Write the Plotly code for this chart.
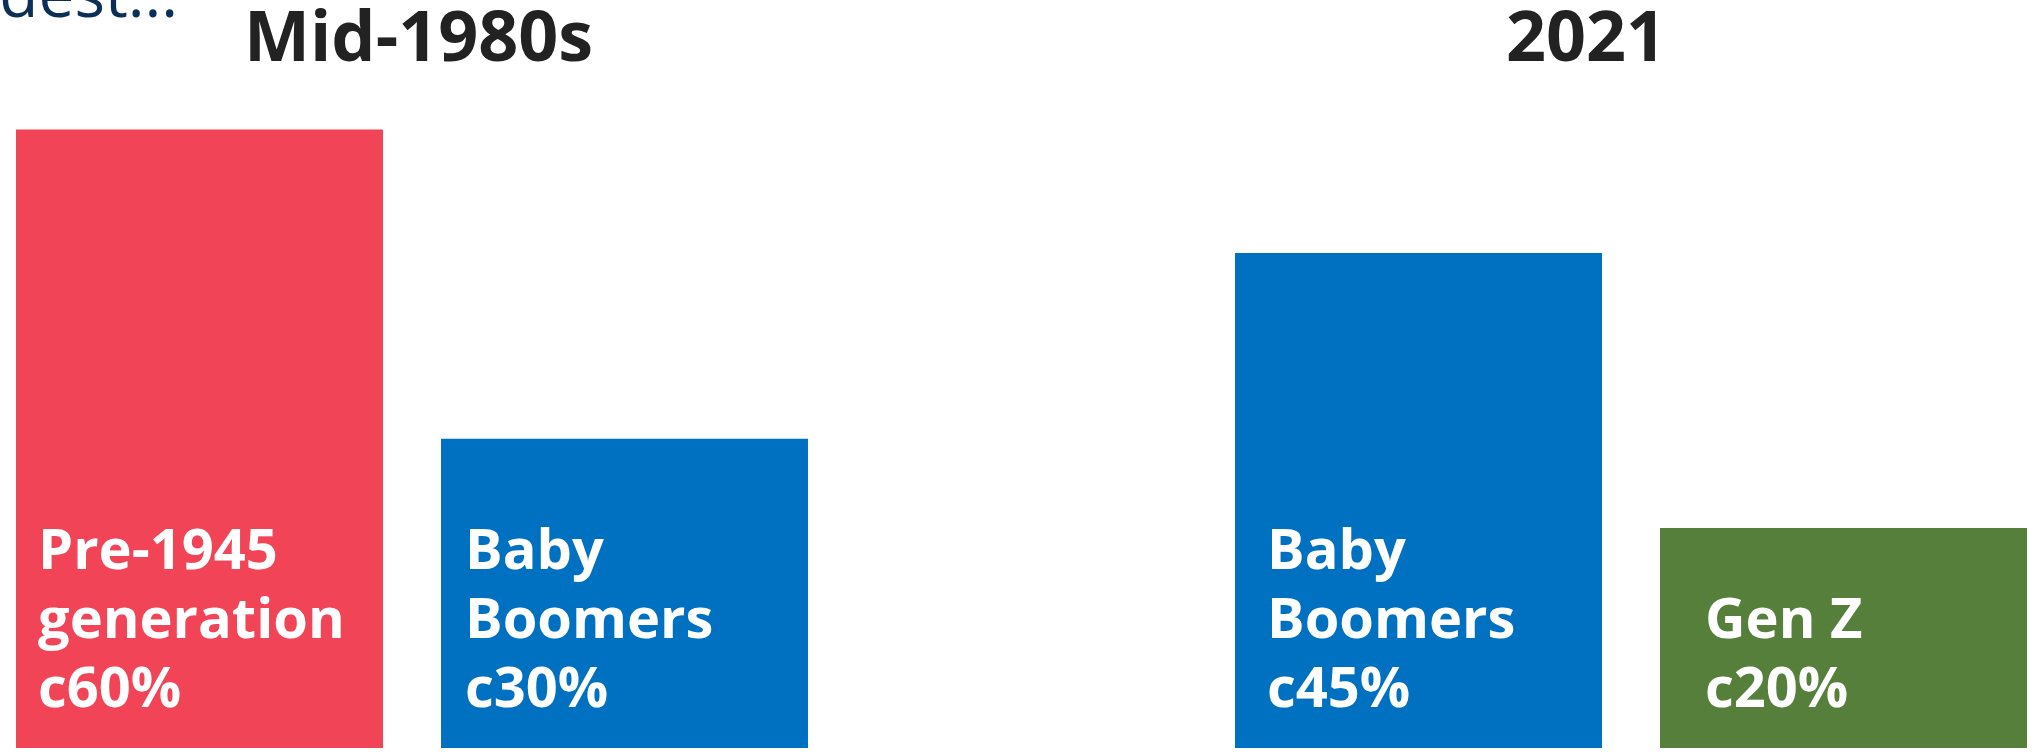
import plotly.graph_objects as go

# ---- data -------------------------------------------------------------
period_titles = ["Mid-1980s", "2021"]

gens_1980s = ["Pre-1945<br>generation", "Baby<br>Boomers"]
share_1980s = [60, 30]

gens_2021 = ["Baby<br>Boomers", "Gen Z"]
share_2021 = [45, 20]

lead_text = "the oldest..."

# ---- style ------------------------------------------------------------
RED = "#F14457"
BLUE = "#0071C1"
GREEN = "#577F3C"
colors_1980s = [RED, BLUE]
colors_2021 = [BLUE, GREEN]

W, H = 2034, 755
M_BOTTOM = 7
PLOT_H = H - M_BOTTOM

LABEL_FONT = dict(family="Open Sans", size=56, color="white", weight="bold")
TITLE_FONT = dict(family="Open Sans", size=70, color="#222222", weight="bold")
LEAD_FONT = dict(family="Open Sans", size=64, color="#0C2F57")
DESCENT = 0.293  # Open Sans descent, in em

# pixels per percentage point in each panel
PX_PER_PCT = [10.31, 11.0]
# left indent of the in-bar labels (px from the bar's left edge)
LABEL_INDENT = [[20, 22], [30, 43]]
LABEL_LINE_GAP = 69      # px between label baselines
LABEL_LAST_BASE = 40     # px from bar base up to last label baseline
BARGAP = 0.1365
SLOT = 425.0             # px per category slot


def px_x(px):
    return px / W


def px_y(py):
    return 1 - py / PLOT_H


fig = go.Figure()

panels = [
    (gens_1980s, share_1980s, colors_1980s, "x", "y"),
    (gens_2021, share_2021, colors_2021, "x2", "y2"),
]

for p, (gens, vals, cols, xa, ya) in enumerate(panels):
    fig.add_trace(go.Bar(
        x=gens, y=vals, marker=dict(color=cols, line=dict(width=0)),
        xaxis=xa, yaxis=ya, hoverinfo="skip", showlegend=False,
    ))
    for i, (g, v) in enumerate(zip(gens, vals)):
        lines = g.split("<br>") + [f"c{v}%"]
        n = len(lines)
        for k, line in enumerate(lines):
            base_up = LABEL_LAST_BASE + LABEL_LINE_GAP * (n - 1 - k)
            fig.add_annotation(
                x=g, y=0, xref=xa, yref=ya,
                text=line, showarrow=False, align="left",
                xanchor="left", yanchor="bottom",
                xshift=-(1 - BARGAP) / 2 * SLOT + LABEL_INDENT[p][i],
                yshift=base_up - DESCENT * LABEL_FONT["size"] - 1,
                font=LABEL_FONT,
            )

# panel titles
for title, cx in zip(period_titles, [418, 1586]):
    fig.add_annotation(
        x=px_x(cx), y=px_y(62 + DESCENT * TITLE_FONT["size"] + 1),
        xref="paper", yref="paper", text=title, showarrow=False,
        xanchor="center", yanchor="bottom", font=TITLE_FONT,
    )

# lead-in text running off the top-left corner
fig.add_annotation(
    x=px_x(180), y=px_y(18 + DESCENT * LEAD_FONT["size"] + 1),
    xref="paper", yref="paper", text=lead_text, showarrow=False,
    xanchor="right", yanchor="bottom", font=LEAD_FONT,
)

# axis geometry
d1_end, d2_start = 0.45, 0.5
c1 = [199.5, 1418.5]
x1_range = [(0 - c1[0]) / SLOT, (d1_end * W - c1[0]) / SLOT]
x2_range = [(d2_start * W - c1[1]) / SLOT, (W - c1[1]) / SLOT]

hidden = dict(visible=False, showgrid=False, zeroline=False, fixedrange=True)
fig.update_layout(
    width=W, height=H,
    margin=dict(l=0, r=0, t=0, b=M_BOTTOM, pad=0),
    paper_bgcolor="white", plot_bgcolor="white",
    bargap=BARGAP,
    xaxis=dict(domain=[0, d1_end], range=x1_range, type="category", **hidden),
    xaxis2=dict(domain=[d2_start, 1], range=x2_range, type="category", **hidden),
    yaxis=dict(range=[0, PLOT_H / PX_PER_PCT[0]], anchor="x", **hidden),
    yaxis2=dict(range=[0, PLOT_H / PX_PER_PCT[1]], anchor="x2", **hidden),
)

fig.write_html("out.html", config={"displayModeBar": False})
